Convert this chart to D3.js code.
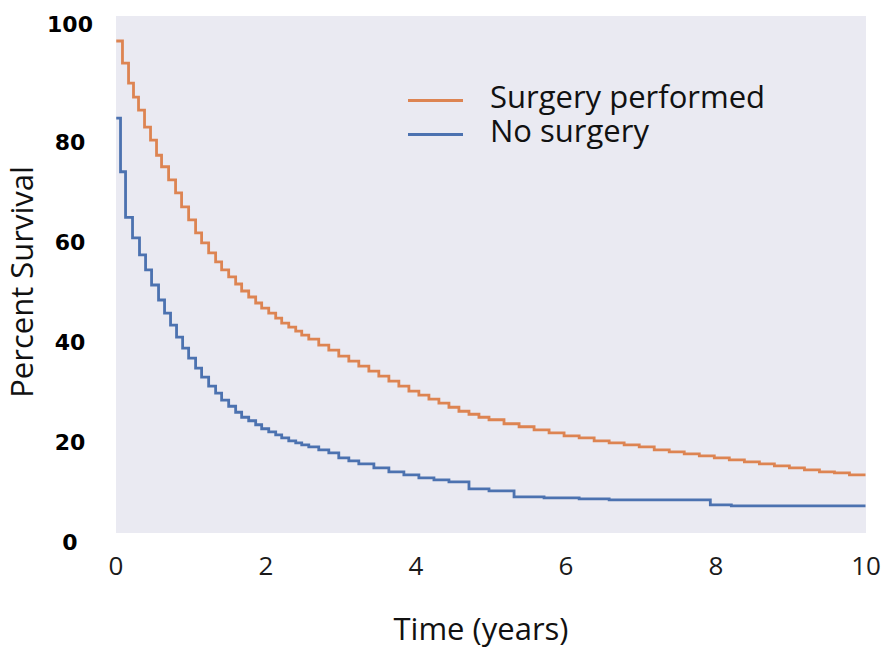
<!DOCTYPE html>
<html>
<head>
<meta charset="utf-8">
<script src="https://cdn.jsdelivr.net/npm/d3@7"></script>
<style>
  html, body { margin: 0; padding: 0; background: #ffffff; }
  svg { display: block; }
</style>
</head>
<body>
<svg id="chart" width="886" height="654"></svg>
<script>
// ---- data (time in years, percent survival; value holds after each time) ----
const surgeryTimes = [0.01,0.093,0.174,0.24,0.307,0.387,0.467,0.547,0.614,0.708,0.801,0.881,0.975,1.068,1.148,1.242,1.335,1.415,1.509,1.602,1.682,1.776,1.869,1.949,2.043,2.136,2.216,2.31,2.403,2.483,2.577,2.71,2.844,2.977,3.111,3.244,3.378,3.511,3.645,3.778,3.912,4.045,4.179,4.312,4.446,4.579,4.713,4.846,4.98,5.18,5.381,5.581,5.781,5.981,6.182,6.382,6.582,6.782,6.983,7.183,7.383,7.583,7.784,7.984,8.184,8.385,8.585,8.785,8.985,9.186,9.386,9.586,9.786,10];
const surgeryValues = [100,95.6,91.6,88.8,86.2,82.8,80.2,77.2,74.9,72.3,69.7,66.9,64.3,61.7,59.7,57.7,55.9,54.3,52.9,51.5,50.1,48.9,47.7,46.7,45.7,44.7,43.7,42.9,42.1,41.3,40.5,39.3,38.3,37.1,36.1,35.1,34.1,33.1,32.1,31.1,30.1,29.3,28.5,27.7,26.9,26.1,25.5,24.9,24.4,23.6,23.0,22.4,21.8,21.2,20.8,20.2,19.8,19.4,19.0,18.4,18.0,17.6,17.2,16.8,16.4,16.0,15.6,15.2,14.8,14.4,14.0,13.8,13.4,13.4];

const noSurgeryTimes = [0.01,0.067,0.134,0.227,0.32,0.401,0.481,0.574,0.654,0.734,0.814,0.895,0.975,1.068,1.148,1.242,1.335,1.415,1.509,1.602,1.682,1.776,1.869,1.949,2.043,2.136,2.216,2.31,2.403,2.483,2.577,2.71,2.844,2.977,3.111,3.244,3.445,3.645,3.845,4.045,4.246,4.446,4.713,4.98,5.314,5.714,6.182,6.582,7.931,8.211,10];
const noSurgeryValues = [84.6,73.9,64.8,60.7,57.3,54.3,51.3,48.3,45.7,43.3,40.9,38.7,36.7,34.7,32.9,31.1,29.7,28.3,27.1,25.9,24.9,24.2,23.4,22.6,22.0,21.4,20.8,20.2,19.8,19.4,19.0,18.4,17.8,16.8,16.2,15.6,14.8,14.0,13.4,12.8,12.4,12.0,10.6,10.2,9.0,8.8,8.6,8.4,7.4,7.2,7.2];

const seriesNames = ["Surgery performed", "No surgery"];
const seriesColors = ["#dd8452", "#4c72b0"];
const xTicks = [0, 2, 4, 6, 8, 10];
const yTicks = [0, 20, 40, 60, 80, 100];
const xTitle = "Time (years)";
const yTitle = "Percent Survival";

// ---- layout ----
const svg = d3.select("#chart");
const textFont = "'Open Sans', 'Noto Sans', sans-serif";

const x = d3.scaleLinear().domain([0, 10]).range([115.5, 865.5]);
const y = d3.scaleLinear().domain([0, 100]).range([542, 41]);

// plot background
svg.append("rect")
  .attr("x", 116).attr("y", 16)
  .attr("width", 750).attr("height", 517)
  .attr("fill", "#eaeaf2");

// curves
const series = [
  { name: seriesNames[0], color: seriesColors[0], pts: surgeryTimes.map((t, i) => [t, surgeryValues[i]]) },
  { name: seriesNames[1], color: seriesColors[1], pts: noSurgeryTimes.map((t, i) => [t, noSurgeryValues[i]]) }
];
const line = d3.line()
  .x(d => x(d[0]))
  .y(d => y(d[1]))
  .curve(d3.curveStepAfter);

svg.append("g").selectAll("path")
  .data(series)
  .join("path")
  .attr("d", d => line(d.pts))
  .attr("fill", "none")
  .attr("stroke", d => d.color)
  .attr("stroke-width", 2.8)
  .attr("stroke-linejoin", "miter");

// y axis (labels only)
const yAxis = svg.append("g")
  .attr("transform", "translate(70,0)")
  .call(d3.axisLeft(y).tickValues(yTicks).tickSize(0).tickPadding(0));
yAxis.select(".domain").remove();
yAxis.selectAll("text")
  .attr("x", 0)
  .attr("dy", d => d === 100 ? "-0.45em" : "0.36em")
  .attr("text-anchor", "middle")
  .attr("fill", "#000")
  .style("font-family", "'DejaVu Sans', sans-serif")
  .style("font-weight", "bold")
  .style("font-size", "22px");

// x axis (labels only)
const xAxis = svg.append("g")
  .attr("transform", "translate(0,566)")
  .call(d3.axisBottom(x).tickValues(xTicks).tickSize(0).tickPadding(0));
xAxis.select(".domain").remove();
xAxis.selectAll("text")
  .attr("y", 0)
  .attr("dy", "0.36em")
  .attr("fill", "#1a1a1a")
  .style("font-family", textFont)
  .style("font-size", "26px");

// axis titles
svg.append("text")
  .attr("x", 481).attr("y", 640)
  .attr("text-anchor", "middle")
  .attr("fill", "#111")
  .style("font-family", textFont)
  .style("font-size", "31px")
  .text(xTitle);

svg.append("text")
  .attr("transform", "translate(33,282) rotate(-90)")
  .attr("text-anchor", "middle")
  .attr("fill", "#111")
  .style("font-family", textFont)
  .style("font-size", "31px")
  .text(yTitle);

// legend
const legend = svg.append("g");
const legendRows = legend.selectAll("g")
  .data(series)
  .join("g")
  .attr("transform", (d, i) => `translate(408,${100.5 + i * 34})`);
legendRows.append("line")
  .attr("x1", 0).attr("x2", 55)
  .attr("y1", 0).attr("y2", 0)
  .attr("stroke", d => d.color)
  .attr("stroke-width", 3.2);
legendRows.append("text")
  .attr("x", 82).attr("y", 7.5)
  .attr("fill", "#111")
  .style("font-family", textFont)
  .style("font-size", "31px")
  .text(d => d.name);
</script>
</body>
</html>
